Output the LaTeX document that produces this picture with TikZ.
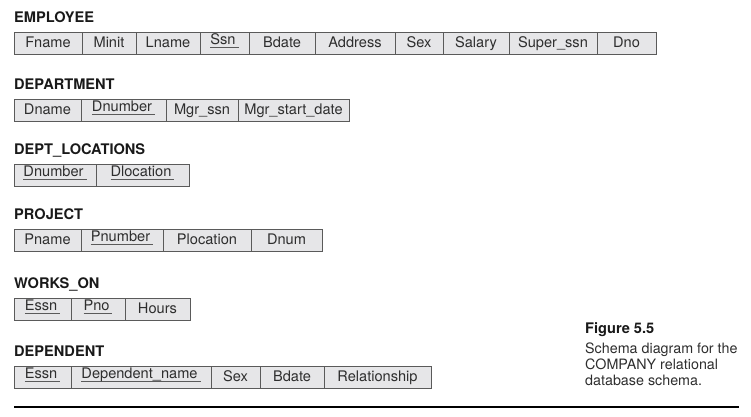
\documentclass[tikz,border=0pt]{standalone}
\usepackage{fontspec}
\setmainfont{TeX Gyre Heros}
\usepackage{xcolor}
\usetikzlibrary{positioning}

\definecolor{cellgray}{HTML}{E6E6E8}
\definecolor{linegray}{HTML}{5A5A5A}
\definecolor{inkgray}{HTML}{2E2E2E}

% key attribute: raised text with a grey rule under it
\newcommand\pkey[1]{\setbox0\hbox{#1}\raisebox{2.5pt}{\hbox to \dimexpr\wd0+3pt\relax{\rlap{\color{linegray}\rule[-3pt]{\dimexpr\wd0+3pt\relax}{0.8pt}}\box0\hfil}}}

\begin{document}
\begin{tikzpicture}[x=1pt,y=-1pt,node distance=0pt,
  cell/.style={draw=linegray,fill=cellgray,line width=1pt,minimum height=22.5pt,inner sep=0pt,outer sep=0pt,
    text=inkgray,font=\fontsize{14.6}{16}\selectfont,text height=11.2pt,text depth=2.8pt},
  rel/.style={anchor=base west,inner sep=0pt,text=black!90,font=\bfseries\fontsize{14.6}{16}\selectfont},
  capbody/.style={inner sep=0pt,align=left,text=inkgray,font=\fontsize{14.3}{16}\selectfont}]
\useasboundingbox (0,0) rectangle (751,416);

% EMPLOYEE
\node[cell,minimum width=68pt,anchor=north west] (fname) at (14,32) {Fname};
\node[cell,minimum width=54pt,right=of fname] (minit) {Minit};
\node[cell,minimum width=64pt,right=of minit] (lname) {Lname};
\node[cell,minimum width=49pt,right=of lname] (essnkey) {\pkey{Ssn}};
\node[cell,minimum width=66pt,right=of essnkey] (ebdate) {Bdate};
\node[cell,minimum width=80pt,right=of ebdate] (address) {Address};
\node[cell,minimum width=48pt,right=of address] (esex) {Sex};
\node[cell,minimum width=66pt,right=of esex] (salary) {Salary};
\node[cell,minimum width=88pt,right=of salary] (superssn) {Super\_ssn};
\node[cell,minimum width=59pt,right=of superssn] (dno) {Dno};
\node[rel,above=9.5pt of fname.north west,anchor=base west] (employee) {EMPLOYEE};

% DEPARTMENT
\node[cell,minimum width=67pt,anchor=north west] (dname) at (14,99) {Dname};
\node[cell,minimum width=85pt,right=of dname] (dnumber) {\pkey{Dnumber}};
\node[cell,minimum width=72pt,right=of dnumber] (mgrssn) {Mgr\_ssn};
\node[cell,minimum width=111pt,right=of mgrssn] (mgrdate) {Mgr\_start\_date};
\node[rel,above=9.5pt of dname.north west,anchor=base west] (department) {DEPARTMENT};

% DEPT_LOCATIONS
\node[cell,minimum width=82pt,anchor=north west] (ldnumber) at (14,164) {\pkey{Dnumber}};
\node[cell,minimum width=93pt,right=of ldnumber] (dlocation) {\pkey{Dlocation}};
\node[rel,above=9.5pt of ldnumber.north west,anchor=base west] (deptloc) {DEPT\_LOCATIONS};

% PROJECT
\node[cell,minimum width=67pt,anchor=north west] (pname) at (14,229) {Pname};
\node[cell,minimum width=82pt,right=of pname] (pnumber) {\pkey{Pnumber}};
\node[cell,minimum width=88pt,right=of pnumber] (plocation) {Plocation};
\node[cell,minimum width=71pt,right=of plocation] (dnum) {Dnum};
\node[rel,above=9.5pt of pname.north west,anchor=base west] (project) {PROJECT};

% WORKS_ON
\node[cell,minimum width=57pt,anchor=north west] (wessn) at (14,298) {\pkey{Essn}};
\node[cell,minimum width=54pt,right=of wessn] (pno) {\pkey{Pno}};
\node[cell,minimum width=65pt,right=of pno] (hours) {Hours};
\node[rel,above=9.5pt of wessn.north west,anchor=base west] (workson) {WORKS\_ON};

% DEPENDENT
\node[cell,minimum width=57pt,anchor=north west] (dessn) at (14,366) {\pkey{Essn}};
\node[cell,minimum width=140pt,right=of dessn] (depname) {\pkey{Dependent\_name}};
\node[cell,minimum width=49pt,right=of depname] (dsex) {Sex};
\node[cell,minimum width=64pt,right=of dsex] (dbdate) {Bdate};
\node[cell,minimum width=107pt,right=of dbdate] (relationship) {Relationship};
\node[rel,above=9.5pt of dessn.north west,anchor=base west] (dependent) {DEPENDENT};

% caption and rule
\node[rel] (figno) at (585,333) {Figure 5.5};
\node[capbody,anchor=north west] (figtext) at ([yshift=-10pt]figno.base west) {Schema diagram for the\\COMPANY relational\\database schema.};
\coordinate (rulestart) at (14,407);
\coordinate (ruleend) at (739,407);
\draw[line width=1.2pt] (rulestart) -- (ruleend);
\end{tikzpicture}
\end{document}
